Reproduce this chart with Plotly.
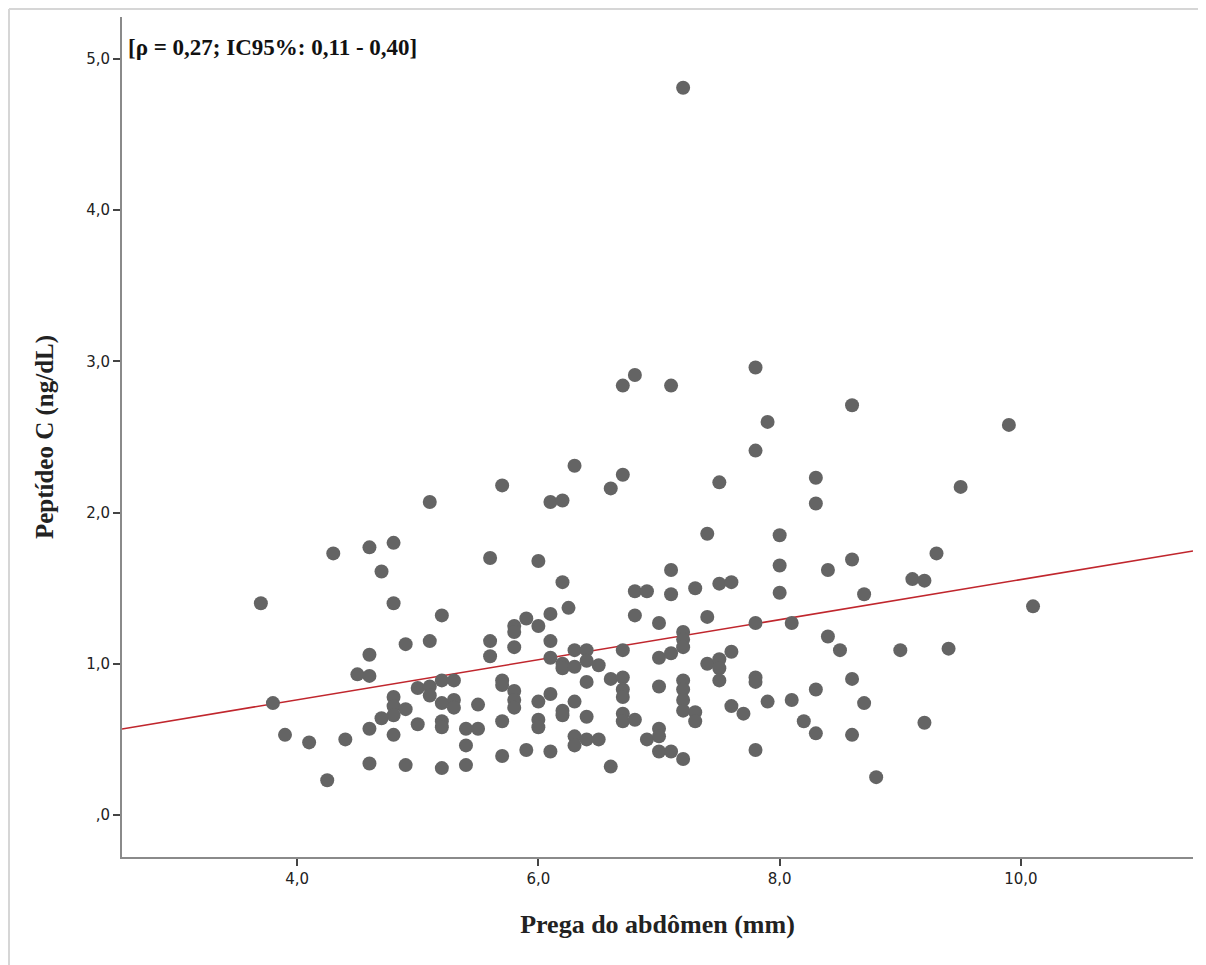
import plotly.graph_objects as go

# Data (x: Prega do abdômen, y: Peptídeo C)
pts = {
    3.7: [1.40], 3.8: [0.74], 3.9: [0.53], 4.1: [0.48], 4.25: [0.23], 4.3: [1.73],
    4.4: [0.50], 4.5: [0.93],
    4.6: [1.77, 1.06, 0.92, 0.57, 0.34],
    4.7: [1.61, 0.64],
    4.8: [1.80, 1.40, 0.78, 0.72, 0.66, 0.53],
    4.9: [1.13, 0.70, 0.33],
    5.0: [0.84, 0.60],
    5.1: [2.07, 1.15, 0.85, 0.79],
    5.2: [1.32, 0.89, 0.74, 0.62, 0.58, 0.31],
    5.3: [0.89, 0.76, 0.71],
    5.4: [0.57, 0.46, 0.33],
    5.5: [0.73, 0.57],
    5.6: [1.70, 1.15, 1.05],
    5.7: [2.18, 0.89, 0.86, 0.62, 0.39],
    5.8: [1.25, 1.21, 1.11, 0.82, 0.76, 0.71],
    5.9: [1.30, 0.43],
    6.0: [1.68, 1.25, 0.75, 0.63, 0.58],
    6.1: [2.07, 1.33, 1.15, 1.04, 0.80, 0.42],
    6.2: [2.08, 1.54, 1.00, 0.97, 0.69, 0.66],
    6.25: [1.37],
    6.3: [2.31, 1.09, 0.98, 0.75, 0.52, 0.46],
    6.4: [1.09, 1.02, 0.88, 0.65, 0.50],
    6.5: [0.99, 0.50],
    6.6: [2.16, 0.90, 0.32],
    6.7: [2.84, 2.25, 1.09, 0.91, 0.83, 0.78, 0.67, 0.62],
    6.8: [2.91, 1.48, 1.32, 0.63],
    6.9: [1.48, 0.50],
    7.0: [1.27, 1.04, 0.85, 0.57, 0.52, 0.42],
    7.1: [2.84, 1.62, 1.46, 1.07, 0.42],
    7.2: [4.81, 1.21, 1.16, 1.11, 0.89, 0.83, 0.76, 0.69, 0.37],
    7.3: [1.50, 0.68, 0.62],
    7.4: [1.86, 1.31, 1.00],
    7.5: [2.20, 1.53, 1.03, 0.97, 0.89],
    7.6: [1.54, 1.08, 0.72],
    7.7: [0.67],
    7.8: [2.96, 2.41, 1.27, 0.91, 0.88, 0.43],
    7.9: [2.60, 0.75],
    8.0: [1.85, 1.65, 1.47],
    8.1: [1.27, 0.76],
    8.2: [0.62],
    8.3: [2.23, 2.06, 0.83, 0.54],
    8.4: [1.62, 1.18],
    8.5: [1.09],
    8.6: [2.71, 1.69, 0.90, 0.53],
    8.7: [1.46, 0.74],
    8.8: [0.25],
    9.0: [1.09],
    9.1: [1.56],
    9.2: [1.55, 0.61],
    9.3: [1.73],
    9.4: [1.10],
    9.5: [2.17],
    9.9: [2.58],
    10.1: [1.38],
}
prega = [x for x, ys in pts.items() for _ in ys]
peptideo = [y for ys in pts.values() for y in ys]

# Fit line
fit_intercept = 0.231
fit_slope = 0.1326
x_range = [2.549, 11.426]
y_range = [-0.278, 5.278]

x_ticks = [4, 6, 8, 10]
x_ticklabels = ["4,0", "6,0", "8,0", "10,0"]
y_ticks = [0, 1, 2, 3, 4, 5]
y_ticklabels = [",0", "1,0", "2,0", "3,0", "4,0", "5,0"]

fig = go.Figure()
fig.add_trace(go.Scatter(
    x=x_range, y=[fit_intercept + fit_slope * v for v in x_range],
    mode="lines", line=dict(color="#c0262d", width=1.6), hoverinfo="skip",
    showlegend=False))
fig.add_trace(go.Scatter(
    x=prega, y=peptideo, mode="markers",
    marker=dict(color="#646464", size=14, line=dict(width=0)),
    showlegend=False))

axis_common = dict(showgrid=False, zeroline=False, showline=True,
                   linecolor="#8a8a8a", linewidth=2, ticks="outside",
                   ticklen=7, tickwidth=2, tickcolor="#444",
                   tickfont=dict(family="DejaVu Sans", size=15, color="#222"))

fig.update_layout(
    width=1198, height=957,
    margin=dict(l=114, r=13, t=9, b=108),
    paper_bgcolor="white", plot_bgcolor="white",
    xaxis=dict(range=x_range, tickvals=x_ticks, ticktext=x_ticklabels,
               title=dict(text="<b>Prega do abdômen (mm)</b>", standoff=28,
                          font=dict(family="Liberation Serif", size=26, color="#222")),
               **axis_common),
    yaxis=dict(range=y_range, tickvals=y_ticks, ticktext=y_ticklabels,
               title=dict(text="<b>Peptídeo C (ng/dL)</b>", standoff=25,
                          font=dict(family="Liberation Serif", size=25, color="#222")),
               **axis_common),
    annotations=[dict(
        text="<b>[ρ = 0,27; IC95%: 0,11 - 0,40]</b>", xref="paper", yref="paper",
        x=0.004, y=0.964, xanchor="left", yanchor="middle", showarrow=False,
        font=dict(family="Liberation Serif", size=23, color="#111"))],
    shapes=[
        dict(type="line", xref="paper", yref="paper", x0=-0.1055, x1=1.02,
             y0=1.0095, y1=1.0095, line=dict(color="#d6d6d6", width=2)),
        dict(type="line", xref="paper", yref="paper", x0=-0.1055, x1=-0.1055,
             y0=1.0095, y1=-0.1286, line=dict(color="#d6d6d6", width=2)),
    ],
)

fig.write_html("out.html")
